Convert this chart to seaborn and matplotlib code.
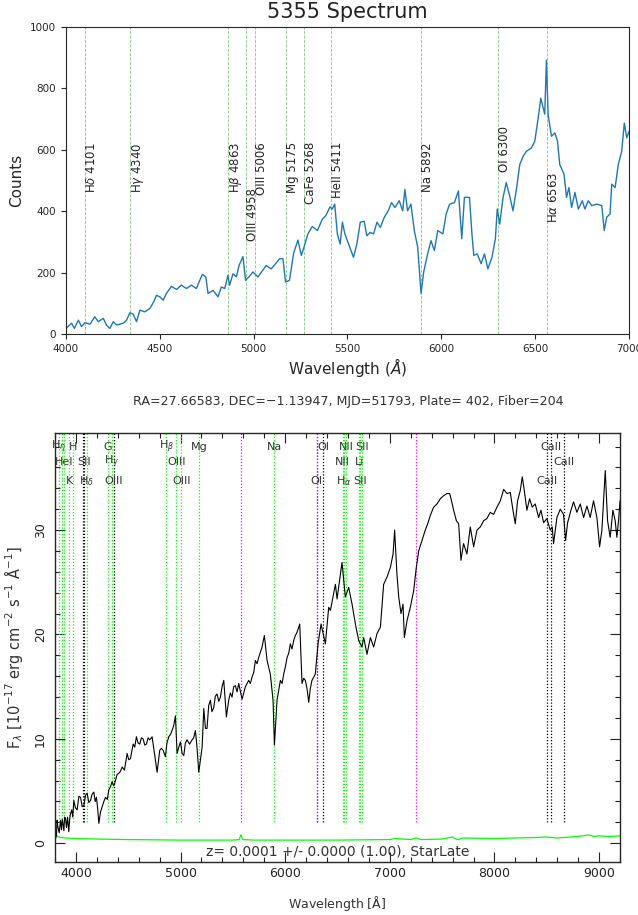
import matplotlib
matplotlib.use("Agg")
import matplotlib.pyplot as plt
from matplotlib.ticker import MultipleLocator
import seaborn as sns

sns.set_style("ticks")
plt.rcParams["font.family"] = ["DejaVu Sans"]

# ---------------- top panel: raw counts spectrum ----------------
top_wave = [4000, 4030, 4045, 4066, 4083, 4101, 4128, 4154, 4172, 4199, 4216, 4234,
            4252, 4270, 4305, 4323, 4340, 4358, 4376, 4394, 4420, 4447, 4468, 4482,
            4500, 4518, 4535, 4562, 4589, 4615, 4642, 4668, 4695, 4713, 4727, 4745,
            4757, 4784, 4810, 4828, 4846, 4863, 4872, 4890, 4908, 4922, 4943, 4957,
            4975, 4996, 5023, 5050, 5067, 5094, 5117, 5138, 5156, 5170, 5191, 5213,
            5236, 5254, 5271, 5289, 5312, 5340, 5366, 5384, 5407, 5419, 5432, 5446,
            5461, 5473, 5486, 5509, 5532, 5550, 5568, 5589, 5603, 5621, 5639, 5657,
            5675, 5696, 5717, 5735, 5753, 5776, 5794, 5806, 5820, 5838, 5856, 5874,
            5892, 5906, 5927, 5945, 5963, 5981, 6008, 6026, 6044, 6070, 6091, 6102,
            6109, 6123, 6150, 6163, 6173, 6191, 6212, 6230, 6248, 6270, 6288, 6298,
            6311, 6329, 6346, 6364, 6382, 6400, 6418, 6436, 6453, 6480, 6498, 6516,
            6530, 6543, 6551, 6560, 6569, 6587, 6605, 6619, 6631, 6654, 6667, 6680,
            6694, 6712, 6730, 6751, 6765, 6783, 6801, 6828, 6855, 6868, 6881, 6899,
            6908, 6926, 6943, 6961, 6975, 6988, 7000]
top_counts = [18, 35, 18, 45, 24, 37, 32, 56, 40, 51, 29, 18,
              40, 29, 35, 45, 69, 65, 40, 78, 72, 83, 105, 126,
              121, 110, 132, 155, 145, 159, 148, 159, 148, 175, 194, 186,
              132, 142, 121, 153, 148, 191, 159, 196, 186, 223, 252, 175,
              186, 202, 186, 209, 223, 212, 229, 245, 245, 169, 175, 263,
              306, 256, 288, 326, 350, 337, 374, 385, 414, 407, 423, 326,
              293, 364, 326, 288, 250, 293, 364, 367, 320, 331, 326, 364,
              347, 380, 401, 428, 412, 434, 401, 471, 401, 423, 337, 283,
              132, 202, 261, 304, 272, 337, 326, 391, 423, 428, 466, 369,
              310, 445, 445, 326, 256, 261, 229, 261, 212, 250, 310, 407,
              358, 445, 493, 450, 401, 471, 552, 579, 595, 606, 628, 703,
              768, 736, 716, 892, 714, 644, 655, 628, 552, 520, 445, 477,
              412, 461, 407, 434, 407, 434, 418, 423, 418, 337, 380, 391,
              488, 477, 552, 595, 687, 639, 660]

top_line_wave = [4101, 4340, 4863, 4958, 5006, 5175, 5268, 5411, 5892, 6300, 6563]
top_line_name = [r"H$\delta$ 4101", r"H$\gamma$ 4340", r"H$\beta$ 4863", "OIII 4958",
                 "OIII 5006", "Mg 5175", "CaFe 5268", "HeII 5411", "Na 5892",
                 "OI 6300", r"H$\alpha$ 6563"]
top_label_y = [625, 625, 625, 476, 625, 625, 625, 625, 625, 676, 527]

# ---------------- bottom panel: flux-calibrated spectrum ----------------
flux_wave = [3805, 3814, 3820, 3827, 3840, 3853, 3862, 3870, 3885, 3892, 3900, 3910,
             3920, 3932, 3940, 3948, 3960, 3970, 3980, 3995, 4012, 4028, 4044, 4060,
             4076, 4092, 4107, 4123, 4139, 4155, 4171, 4184, 4196, 4208, 4219, 4235,
             4251, 4267, 4283, 4300, 4314, 4330, 4346, 4362, 4378, 4394, 4410, 4426,
             4442, 4464, 4489, 4505, 4521, 4534, 4547, 4562, 4578, 4594, 4610, 4626,
             4642, 4658, 4674, 4690, 4706, 4728, 4751, 4776, 4801, 4817, 4833, 4855,
             4870, 4887, 4903, 4919, 4935, 4951, 4967, 4983, 4999, 5015, 5031, 5046,
             5062, 5086, 5110, 5126, 5142, 5158, 5174, 5190, 5206, 5222, 5238, 5253,
             5269, 5285, 5300, 5317, 5333, 5349, 5365, 5381, 5397, 5413, 5438, 5460,
             5476, 5492, 5508, 5524, 5540, 5556, 5588, 5604, 5620, 5651, 5667, 5683,
             5700, 5715, 5731, 5747, 5763, 5779, 5801, 5827, 5858, 5884, 5897, 5922,
             5954, 5970, 5986, 6002, 6018, 6034, 6049, 6065, 6081, 6097, 6113, 6139,
             6161, 6177, 6193, 6209, 6225, 6240, 6256, 6288, 6314, 6343, 6384, 6416,
             6432, 6480, 6496, 6543, 6575, 6607, 6639, 6671, 6703, 6734, 6750, 6782,
             6814, 6846, 6878, 6910, 6941, 6973, 7005, 7031, 7046, 7068, 7085, 7107,
             7126, 7139, 7164, 7196, 7228, 7253, 7276, 7308, 7339, 7362, 7387, 7419,
             7451, 7483, 7515, 7546, 7572, 7585, 7610, 7636, 7658, 7680, 7705, 7737,
             7769, 7801, 7833, 7865, 7897, 7928, 7960, 7992, 8024, 8056, 8088, 8119,
             8151, 8177, 8199, 8221, 8247, 8266, 8285, 8310, 8336, 8361, 8390, 8422,
             8444, 8470, 8501, 8533, 8552, 8565, 8597, 8629, 8660, 8680, 8699, 8731,
             8756, 8788, 8820, 8852, 8884, 8915, 8947, 8979, 9005, 9027, 9059, 9081,
             9106, 9132, 9154, 9170, 9186, 9200]
flux = [0.4, 0.8, 2.2, 1.6, 1.0, 2.2, 1.3, 2.3, 1.2, 2.5, 2.4, 1.5,
        2.5, 1.1, 2.3, 2.8, 3.2, 2.5, 4.1, 3.4, 3.2, 4.5, 4.4, 3.5,
        3.6, 4.6, 4.8, 3.9, 4.1, 4.7, 4.9, 4.0, 4.4, 3.3, 1.9, 3.0,
        3.5, 4.0, 4.4, 4.2, 5.1, 5.4, 5.9, 5.5, 6.0, 6.6, 6.7, 6.9,
        7.3, 7.0, 8.6, 8.0, 8.1, 8.8, 9.5, 9.2, 10.2, 9.6, 9.5, 10.1,
        10.0, 9.4, 9.5, 10.1, 9.9, 10.2, 8.6, 6.8, 8.9, 9.1, 8.9, 8.3,
        9.6, 10.2, 10.4, 10.8, 11.3, 12.2, 8.6, 9.2, 9.7, 8.6, 8.4, 9.6,
        9.9, 9.5, 9.9, 10.1, 10.8, 9.1, 6.8, 8.0, 9.2, 12.9, 11.0, 11.0,
        13.2, 13.7, 12.6, 13.0, 14.1, 14.3, 13.6, 14.0, 15.0, 15.6, 12.1, 13.7,
        14.4, 14.0, 15.0, 15.1, 14.5, 15.3, 13.8, 14.4, 15.0, 15.6, 15.3, 15.9,
        16.4, 17.5, 17.2, 17.8, 18.3, 18.8, 19.9, 17.5, 16.2, 13.7, 9.4, 13.7,
        15.6, 15.3, 16.2, 16.9, 17.8, 18.2, 19.1, 18.6, 19.4, 19.9, 20.2, 21.0,
        15.3, 15.8, 15.6, 14.8, 13.5, 14.8, 15.6, 16.2, 19.1, 21.0, 19.1, 22.6,
        22.3, 24.8, 23.4, 26.9, 23.6, 24.5, 22.9, 21.0, 19.4, 18.8, 19.7, 18.1,
        19.7, 18.8, 20.1, 20.7, 24.8, 25.5, 26.4, 27.7, 30.0, 25.8, 23.6, 22.0,
        22.9, 19.7, 21.3, 22.6, 24.2, 26.4, 28.0, 29.0, 30.0, 30.6, 31.4, 32.2,
        32.5, 33.0, 33.3, 33.5, 33.5, 33.0, 31.9, 30.9, 30.6, 27.1, 28.7, 27.7,
        30.3, 28.4, 30.0, 30.3, 30.9, 31.1, 31.7, 31.5, 32.2, 32.8, 33.9, 33.5,
        33.6, 31.9, 30.6, 32.8, 33.8, 35.1, 33.8, 31.9, 33.0, 32.2, 32.5, 31.2,
        31.9, 30.7, 31.1, 30.0, 30.3, 28.7, 31.2, 32.0, 31.5, 29.0, 30.7, 31.9,
        32.7, 31.7, 32.5, 31.2, 32.3, 31.2, 32.8, 31.2, 28.4, 30.0, 35.7, 30.9,
        29.3, 31.9, 30.9, 29.3, 30.9, 32.8]

noise_wave = [3800, 3830, 3900, 4000, 4200, 4500, 5000, 5500, 5560, 5577, 5595, 5700,
              6000, 6500, 7000, 7050, 7200, 7250, 7300, 7500, 7600, 7620, 7650, 7700,
              8000, 8200, 8400, 8500, 8600, 8800, 8900, 8950, 9000, 9100, 9200]
noise = [0.9, 0.6, 0.5, 0.45, 0.4, 0.35, 0.3, 0.3, 0.35, 0.8, 0.35, 0.3,
         0.3, 0.3, 0.35, 0.45, 0.35, 0.5, 0.35, 0.4, 0.6, 0.45, 0.35, 0.5,
         0.45, 0.5, 0.55, 0.6, 0.5, 0.65, 0.8, 0.65, 0.7, 0.65, 0.7]

# line markers: wavelength, label, label row (0 = none), colour
mark_wave = [3835, 3869, 3889, 3934, 3970, 4068, 4076, 4102, 4305, 4341, 4364,
             4862, 4959, 5007, 5177, 5577, 5896, 6300, 6300, 6363, 6548, 6563,
             6583, 6707, 6716, 6731, 7246, 8498, 8542, 8662]
mark_label = [r"H$_\eta$", "", "HeI", "K", "H", "", "SII", r"H$_\delta$", "G",
              r"H$_\gamma$", "OIII", r"H$_\beta$", "OIII", "OIII", "Mg", "", "Na",
              "OI", "", "OI", "NII", r"H$_\alpha$", "NII", "Li", "SII", "SII", "",
              "CaII", "CaII", "CaII"]
mark_row = [1, 0, 2, 3, 1, 0, 2, 3, 1, 2, 3, 1, 2, 3, 1, 0, 1, 3, 0, 1, 2, 3,
            1, 2, 3, 1, 0, 3, 1, 2]
mark_color = ["#00ff00", "#00ff00", "#00ff00", "#00ff00", "#00ff00", "black", "black",
              "#00ff00", "#00ff00", "#00ff00", "black", "#00ff00", "#00ff00", "#00ff00",
              "#00ff00", "#ff00ff", "#00ff00", "black", "#ff00ff", "black", "#00ff00",
              "#00ff00", "#00ff00", "#00ff00", "#00ff00", "#00ff00", "#ff00ff",
              "black", "black", "black"]
row_y = {1: 38.0, 2: 36.5, 3: 34.7}

fig = plt.figure(figsize=(6.38, 9.15), dpi=100)

# ---- top axes ----
ax1 = fig.add_axes([0.1034, 0.635, 0.8825, 0.3355])
sns.lineplot(x=top_wave, y=top_counts, ax=ax1, color="#1f77b4", lw=1.0,
             sort=False, estimator=None)
for wl, name, ty in zip(top_line_wave, top_line_name, top_label_y):
    ax1.axvline(wl, color="#2ca02c", ls="--", lw=0.6, alpha=0.6)
    ax1.text(wl, ty, name, rotation=90, ha="left", va="top", fontsize=8.5)
ax1.set_xlim(4000, 7000)
ax1.set_ylim(0, 1000)
ax1.set_xticks([4000, 4500, 5000, 5500, 6000, 6500, 7000])
ax1.set_yticks([0, 200, 400, 600, 800, 1000])
ax1.tick_params(labelsize=7.5, length=3.5, width=0.8)
fig.text(0.1034 + 0.8825 / 2, 1 - 12 / 915, "5355 Spectrum", fontsize=15,
         ha="center", va="center", color="#222222")
ax1.set_ylabel("Counts", fontsize=11)
ax1.set_xlabel(r"Wavelength ($\AA$)", fontsize=11, labelpad=2)
for s in ax1.spines.values():
    s.set_linewidth(0.8)

# ---- bottom axes ----
ax2 = fig.add_axes([0.0862, 0.0579, 0.8856, 0.4689])
for wl, lab, row, col in zip(mark_wave, mark_label, mark_row, mark_color):
    ax2.vlines(wl, 2.0, 39.3, colors=col, linestyles=(0, (1, 1.5)), lw=0.9)
    if row:
        ax2.text(wl, row_y[row], lab, ha="center", va="center", fontsize=8,
                 color="#333333")
sns.lineplot(x=noise_wave, y=noise, ax=ax2, color="#00ff00", lw=0.9,
             sort=False, estimator=None)
sns.lineplot(x=flux_wave, y=flux, ax=ax2, color="black", lw=0.8,
             sort=False, estimator=None)
ax2.set_xlim(3800, 9200)
ax2.set_ylim(-1.8, 39.3)
ax2.xaxis.set_major_locator(MultipleLocator(1000))
ax2.xaxis.set_minor_locator(MultipleLocator(200))
ax2.yaxis.set_major_locator(MultipleLocator(10))
ax2.yaxis.set_minor_locator(MultipleLocator(2))
ax2.tick_params(which="both", direction="in", top=True, right=True,
                labelsize=9, colors="#222222")
ax2.tick_params(which="major", length=7, width=0.8)
ax2.tick_params(which="minor", length=3.5, width=0.8)
ax2.tick_params(axis="y", labelrotation=90, pad=6)
for lbl in ax2.get_yticklabels():
    lbl.set_va("center")
for s in ax2.spines.values():
    s.set_linewidth(1.0)
ax2.set_xlabel(r"Wavelength [$\mathrm{\AA}$]", fontsize=9, color="#333333",
               labelpad=10)
ax2.set_ylabel(r"F$_\lambda$ [10$^{-17}$ erg cm$^{-2}$ s$^{-1}$ $\mathrm{\AA}^{-1}$]",
               fontsize=10.5, color="#333333", labelpad=6)
ax2.text(0.5, 0.006, "z= 0.0001 +/- 0.0000 (1.00), StarLate", transform=ax2.transAxes,
         ha="center", va="bottom", fontsize=10, color="#333333")
fig.text(0.546, 1 - 402 / 915,
         "RA=27.66583, DEC=\u22121.13947, MJD=51793, Plate= 402, Fiber=204",
         ha="center", va="center", fontsize=9.1, color="#333333")

fig.savefig("out.png", dpi=100)
